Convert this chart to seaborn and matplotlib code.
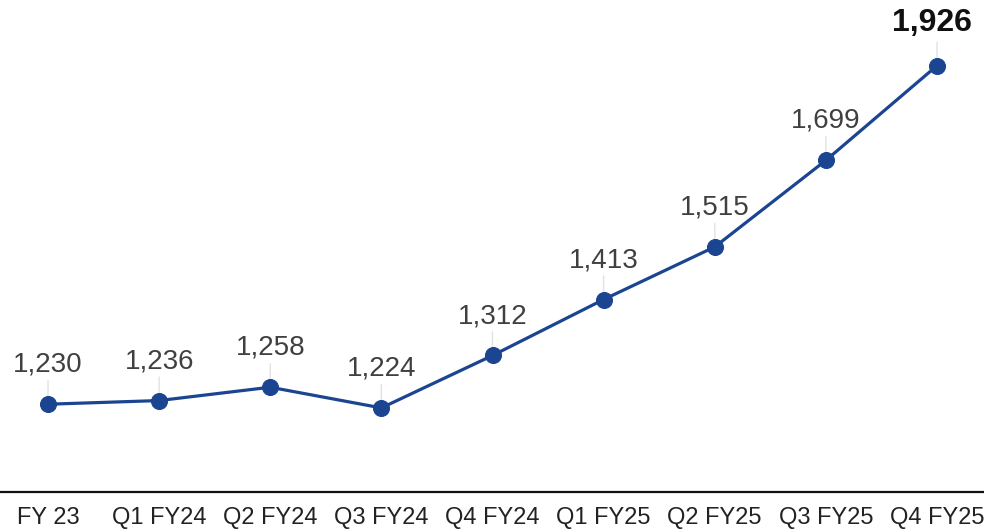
import matplotlib
matplotlib.use("Agg")
import matplotlib.pyplot as plt
import seaborn as sns
import pandas as pd

periods = ["FY 23", "Q1 FY24", "Q2 FY24", "Q3 FY24", "Q4 FY24",
           "Q1 FY25", "Q2 FY25", "Q3 FY25", "Q4 FY25"]
values = [1230, 1236, 1258, 1224, 1312, 1413, 1515, 1699, 1926]

sns.set_style("white")
plt.rcParams["font.family"] = ["Liberation Sans", "DejaVu Sans"]

df = pd.DataFrame({"period": periods, "value": values, "pos": range(len(periods))})

line_color = "#1b4591"

fig = plt.figure(figsize=(9.84, 5.30), dpi=100)
ax = fig.add_axes([0, 38 / 530, 1, 492 / 530])

sns.lineplot(data=df, x="pos", y="value", ax=ax, color=line_color,
             linewidth=2.3, marker="o", markersize=11.5,
             markeredgecolor=line_color, zorder=3)
ax.set_yscale("log")
ax.set_ylim(1095, 2101)
ax.set_xlim(-0.432, 8.423)

last = len(values) - 1
for i, v in enumerate(values):
    # faint leader line from the point up towards its label
    ax.annotate("", xy=(i, v), xytext=(0, 17), textcoords="offset points",
                arrowprops=dict(arrowstyle="-", color="#e2e2e2", lw=1,
                                shrinkA=0, shrinkB=0), zorder=1)
    if i == last:
        ax.annotate(f"{v:,}", (i, v), xytext=(-4, 20), textcoords="offset points",
                    ha="center", va="bottom", fontsize=23, fontweight="bold",
                    color="#111111")
    else:
        ax.annotate(f"{v:,}", (i, v), xytext=(0, 19), textcoords="offset points",
                    ha="center", va="bottom", fontsize=20, color="#404040")

ax.set_xticks(df["pos"])
ax.set_xticklabels(periods, fontsize=17, color="#222222")
ax.tick_params(axis="x", length=0, pad=11)
ax.set_yticks([])
ax.set_yticks([], minor=True)
ax.set_xlabel("")
ax.set_ylabel("")
for s in ["top", "left", "right"]:
    ax.spines[s].set_visible(False)
ax.spines["bottom"].set_color("#111111")
ax.spines["bottom"].set_linewidth(1.6)

plt.savefig("out.png", dpi=100)
